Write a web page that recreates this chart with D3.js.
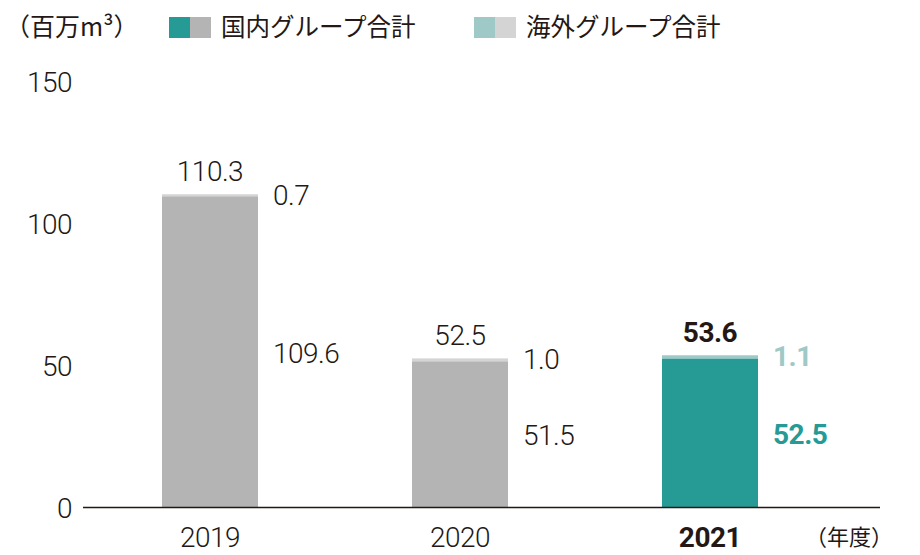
<!DOCTYPE html>
<html><head><meta charset="utf-8">
<script src="https://cdn.jsdelivr.net/npm/d3@7/dist/d3.min.js"></script>
<style>
body{margin:0;background:#fff;}
svg{display:block;}
.num{font-family:Roboto,"Liberation Sans",sans-serif;}
.jp{font-family:"Noto Sans CJK JP",sans-serif;}
</style></head>
<body>
<svg id="c" width="920" height="555"></svg>
<script>
const years = ["2019", "2020", "2021"];
const domestic = [109.6, 51.5, 52.5];
const overseas = [0.7, 1.0, 1.1];
const totals = [110.3, 52.5, 53.6];
const yTicks = [0, 50, 100, 150];
const legendLabels = ["国内グループ合計", "海外グループ合計"];
const unitLabel = "（百万m³）";
const xUnitLabel = "（年度）";

const ink = "#231815";
const teal = "#269b96", tealLight = "#9ec9c6";
const gray = "#b4b4b4", grayLight = "#d4d4d4";
const highlight = "2021";

const svg = d3.select("#c");
const x = d3.scaleBand().domain(years).range([85, 835]).paddingInner(0.616).paddingOuter(0.308);
const y = d3.scaleLinear().domain([0, 150]).range([507.5, 81.5]);

// Y tick labels
svg.append("g").selectAll("text").data(yTicks).join("text")
  .attr("class", "num").attr("x", 72).attr("y", d => y(d) + 10)
  .attr("text-anchor", "end").attr("font-size", 28).attr("fill", ink)
  .style("font-weight", 300).attr("letter-spacing", -0.5).text(d => d);

// Bars
const data = years.map((yr, i) => ({yr, d: domestic[i], o: overseas[i], t: totals[i], hl: yr === highlight}));
const bars = svg.append("g");
bars.selectAll("rect.dom").data(data).join("rect")
  .attr("x", d => x(d.yr)).attr("width", x.bandwidth())
  .attr("y", d => y(d.d)).attr("height", d => y(0) - y(d.d))
  .attr("fill", d => d.hl ? teal : gray);
bars.selectAll("rect.ovs").data(data).join("rect")
  .attr("x", d => x(d.yr)).attr("width", x.bandwidth())
  .attr("y", d => y(d.d + d.o)).attr("height", d => y(d.d) - y(d.d + d.o))
  .attr("fill", d => d.hl ? tealLight : grayLight);

// Baseline
svg.append("line").attr("x1", 83).attr("x2", 880).attr("y1", y(0)).attr("y2", y(0))
  .attr("stroke", ink).attr("stroke-width", 1.3);

const fw = d => d.hl ? 700 : 300;

// Total labels
svg.append("g").selectAll("text").data(data).join("text")
  .attr("class", "num").attr("x", d => x(d.yr) + x.bandwidth() / 2)
  .attr("y", d => y(d.d + d.o) - 13).attr("text-anchor", "middle")
  .attr("font-size", 28).attr("letter-spacing", -0.5)
  .style("font-weight", fw).attr("fill", ink)
  .text(d => d.t.toFixed(1));

// Overseas labels
svg.append("g").selectAll("text").data(data).join("text")
  .attr("class", "num").attr("x", d => x(d.yr) + x.bandwidth() + 15)
  .attr("y", d => y(d.d + d.o) + 11)
  .attr("font-size", 28).attr("letter-spacing", -0.5)
  .style("font-weight", fw).attr("fill", d => d.hl ? tealLight : ink)
  .text(d => d.o.toFixed(1));

// Domestic labels
svg.append("g").selectAll("text").data(data).join("text")
  .attr("class", "num").attr("x", d => x(d.yr) + x.bandwidth() + 15)
  .attr("y", d => y(d.d / 2) + 11)
  .attr("font-size", 28).attr("letter-spacing", -0.5)
  .style("font-weight", fw).attr("fill", d => d.hl ? teal : ink)
  .text(d => d.d.toFixed(1));

// X labels
svg.append("g").selectAll("text").data(years).join("text")
  .attr("class", "num").attr("x", d => x(d) + x.bandwidth() / 2).attr("y", 547)
  .attr("text-anchor", "middle").attr("font-size", 28).attr("letter-spacing", -0.5)
  .style("font-weight", d => d === highlight ? 700 : 300).attr("fill", ink).text(d => d);

svg.append("text").attr("class", "jp").attr("x", 893).attr("y", 545)
  .attr("text-anchor", "end").attr("font-size", 22).attr("fill", ink).text(xUnitLabel);

// Unit label
svg.append("text").attr("class", "jp").attr("x", 5).attr("y", 36)
  .attr("font-size", 25).attr("fill", ink).text(unitLabel);

// Legend
const legendX = [169, 474];
const legendCols = [[teal, gray], [tealLight, grayLight]];
legendLabels.forEach((lab, i) => {
  const g = svg.append("g").attr("transform", `translate(${legendX[i]},17)`);
  g.append("rect").attr("x", 0).attr("y", 0).attr("width", 21).attr("height", 21).attr("fill", legendCols[i][0]);
  g.append("rect").attr("x", 21).attr("y", 0).attr("width", 21).attr("height", 21).attr("fill", legendCols[i][1]);
  g.append("text").attr("class", "jp").attr("x", 52).attr("y", 19)
    .attr("font-size", 24.5).attr("fill", ink).text(lab);
});
</script>
</body></html>
